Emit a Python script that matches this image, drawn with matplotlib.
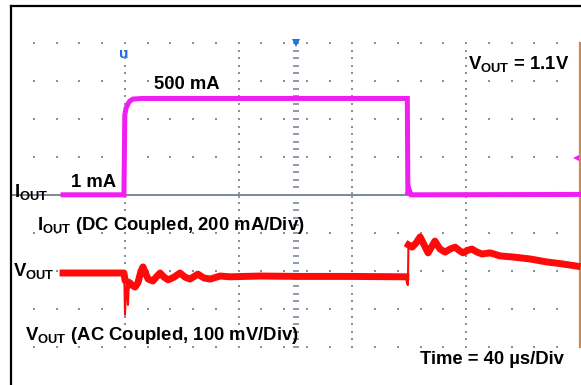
import matplotlib
matplotlib.use("Agg")
import matplotlib.pyplot as plt
import numpy as np

# ---------------- data (read from the scope capture) ----------------
time_per_div = 40.0      # us / div
i_per_div = 200.0        # mA / div
v_per_div = 100.0        # mV / div
n_div_x = 5
n_div_y = 8

# I_OUT (DC coupled), time in us, current in mA
iout_t = [18.3, 39.7, 40.0, 40.4, 41.1, 41.8, 42.9, 46.0, 139.3, 139.5, 139.9, 140.6, 200.0]
iout_ma = [1, 1, 420, 455, 480, 495, 505, 508, 508, 1, 30, 1, 3]

# V_OUT (AC coupled) deviation in mV, main band before/after load step
vout_a_t = [18.3, 39.7, 40.1, 41.8, 42.5, 43.6, 44.6, 45.7, 46.4, 47.1, 48.2, 49.9, 51.0,
            52.4, 53.8, 55.2, 57.3, 59.4, 61.2, 62.9, 65.7, 67.8, 70.0, 73.5, 77.0,
            87.5, 101.6, 119.2, 138.8]
vout_a_mv = [0, 0, -20, -26, -32, -37, -26, 5, 16, 3, -16, -21, -11,
             0, -11, -18, -11, 0, -11, -16, -3, -13, -16, -8, -10,
             -8, -9, -9, -10]
vout_b_t = [139.7, 141.0, 142.4, 143.8, 145.2, 146.6, 148.0, 149.0, 150.8, 152.6, 154.3,
            156.1, 157.8, 158.9, 160.6, 162.0, 163.8, 165.6, 168.4, 171.9, 176.5, 182.4,
            188.4, 193.7, 199.0]
vout_b_mv = [74, 68, 79, 95, 74, 53, 71, 84, 63, 55, 63,
             68, 58, 53, 60, 63, 55, 50, 53, 45, 42, 37,
             29, 24, 18]
# fast edges (thin)
vout_e1_t = [39.8, 40.07, 40.42, 40.77, 41.12, 41.30, 41.83]
vout_e1_mv = [0, -110, -45, -32, -84, -45, -26]
vout_e2_t = [138.8, 139.2, 139.5, 139.7]
vout_e2_mv = [-10, -26, -32, 74]

# ---------------- layout ----------------
W, H = 581, 385
PX_L = 11.0      # left edge of screen (px)
DIV_X = 113.8    # px per horizontal division
Y0_I = 195.0     # px (from top) of I_OUT zero / center line
Y0_V = 273.0     # px of V_OUT reference
DIV_Y = 38.0     # px per vertical division

fig = plt.figure(figsize=(W / 100, H / 100), dpi=100)
plt.rcParams.update({
    "font.family": ["Liberation Sans", "DejaVu Sans"],
    "font.weight": "bold",
    "mathtext.fontset": "custom",
    "mathtext.rm": "Liberation Sans:bold",
    "mathtext.bf": "Liberation Sans:bold",
    "mathtext.it": "Liberation Sans:bold",
})

ax = fig.add_axes([0, 0, 1, 1])
ax.set_xlim(-PX_L / DIV_X * time_per_div, (W - PX_L) / DIV_X * time_per_div)
ax.set_ylim((Y0_I - H) / DIV_Y * i_per_div, Y0_I / DIV_Y * i_per_div)
ax.axis("off")
axv = ax.twinx()
axv.set_ylim((Y0_V - H) / DIV_Y * v_per_div, Y0_V / DIV_Y * v_per_div)
axv.axis("off")

grid_c = "#8791a1"
t_end = n_div_x * time_per_div
i_top = n_div_y / 2 * i_per_div
minor_t = np.arange(0, t_end + 0.01, time_per_div / 5)
minor_i = np.arange(-i_top, i_top + 0.01, i_per_div / 5)

# dotted grid rows
for j in range(-n_div_y // 2, n_div_y // 2 + 1):
    if j == 0:
        continue
    ax.plot(minor_t, np.full_like(minor_t, j * i_per_div), ls="none", marker="s",
            ms=1.5, mew=0, color=grid_c, zorder=1)
# dotted grid columns
for k in range(0, n_div_x + 1):
    mi = minor_i[np.abs(minor_i) > 1e-6]
    ax.plot(np.full_like(mi, k * time_per_div), mi, ls="none", marker="s",
            ms=1.5, mew=0, color=grid_c, zorder=1)
# center vertical axis with dashes
mi = minor_i[np.abs(minor_i) > 1e-6]
ax.plot(np.full_like(mi, t_end / 2), mi, ls="none", marker="_", ms=4.6, mew=1.3,
        color=grid_c, zorder=1)
# center horizontal line with ticks
ax.plot([0, t_end], [0, 0], color="#7d8796", lw=1.4, zorder=1)
tk = np.arange(1, n_div_x) * time_per_div
ax.plot(tk, np.zeros_like(tk), ls="none", marker="|", ms=5, mew=1.2, color="#7d8796", zorder=1)

# orange cursor at right edge
ax.plot([t_end, t_end], [-i_top, i_top], color="#c98b4f", lw=1.6, zorder=2)
# trigger marker
ax.plot([t_end / 2], [i_top], marker="v", ms=6, color="#1f6fe6", mew=0, zorder=3)

# traces
ax.plot(iout_t, iout_ma, color="#f01ef0", lw=3.6, solid_joinstyle="miter", zorder=4)
axv.plot(vout_a_t, vout_a_mv, color="#ff0a0a", lw=5.0, zorder=4)
axv.plot(vout_b_t, vout_b_mv, color="#ff0a0a", lw=5.0, zorder=4)
axv.plot(vout_e1_t, vout_e1_mv, color="#ff0a0a", lw=1.5, zorder=4)
axv.plot(vout_e2_t, vout_e2_mv, color="#ff0a0a", lw=1.5, zorder=4)

def fx(x):
    return x / W

def fy(y):
    return 1 - y / H

# border
fig.add_artist(plt.Line2D([fx(PX_L), 1], [fy(5.5), fy(5.5)], color="black", lw=1.6))
fig.add_artist(plt.Line2D([fx(PX_L), fx(PX_L)], [fy(5.5), 0], color="black", lw=1.6))

# small markers
fig.add_artist(plt.Line2D([fx(576)], [fy(158)], marker="<", ms=4, color="#f01ef0", mew=0))
fig.text(fx(123.5), fy(54), "u", color="#1f6fe6", fontsize=11, fontweight="bold",
         ha="center", va="center")

labels = [
    ("500 mA", 154, 89),
    ("1 mA", 71, 187),
    (r"$\mathbf{V}_{\mathbf{OUT}}$ = 1.1V", 468, 69),
    (r"$\mathbf{I}_{\mathbf{OUT}}$", 14, 197),
    (r"$\mathbf{I}_{\mathbf{OUT}}$ (DC Coupled, 200 mA/Div)", 37, 230),
    (r"$\mathbf{V}_{\mathbf{OUT}}$", 13, 276),
    (r"$\mathbf{V}_{\mathbf{OUT}}$ (AC Coupled, 100 mV/Div)", 25, 340),
    ("Time = 40 µs/Div", 420, 364),
]
for s, x, y in labels:
    fig.text(fx(x), fy(y), s, fontsize=13.3, fontweight="bold", color="black",
             ha="left", va="baseline")

fig.savefig("out.png", dpi=100)
